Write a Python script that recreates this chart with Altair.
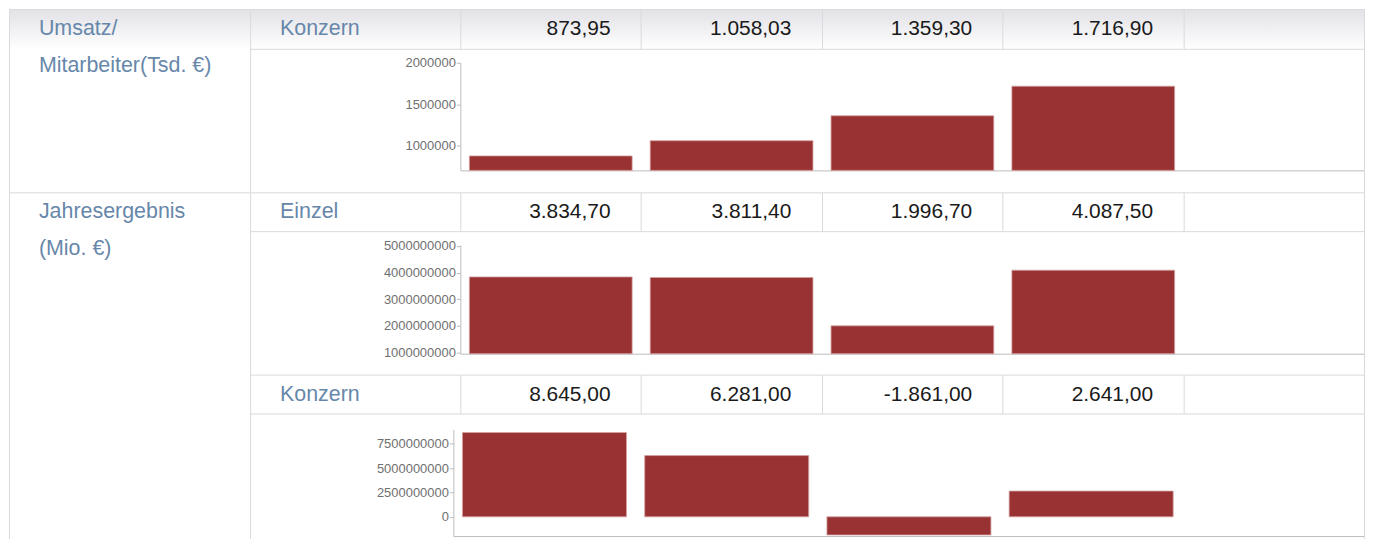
import altair as alt
import pandas as pd

# ---------------- data ----------------
periods = ["Periode 1", "Periode 2", "Periode 3", "Periode 4", "Periode 5"]  # last column is empty
group_labels = ["Umsatz/\nMitarbeiter(Tsd. €)", "Jahresergebnis\n(Mio. €)"]
row_labels = ["Konzern", "Einzel", "Konzern"]
umsatz_konzern = [873.95, 1058.03, 1359.30, 1716.90]      # Tsd. €
ergebnis_einzel = [3834.70, 3811.40, 1996.70, 4087.50]    # Mio. €
ergebnis_konzern = [8645.00, 6281.00, -1861.00, 2641.00]  # Mio. €
row_units = [1e3, 1e6, 1e6]
ticks_1 = [1000000, 1500000, 2000000]
ticks_2 = [1000000000, 2000000000, 3000000000, 4000000000, 5000000000]
ticks_3 = [0, 2500000000, 5000000000, 7500000000]
domain_1 = [699160, 2000000]
domain_2 = [950000000, 5030000000]
domain_3 = [-1970000000, 8960000000]

# ---------------- layout / style ----------------
W, H = 1363, 532
XL0, XL1, XL2, XR = 1.5, 243.5, 454, 1361.5
X3 = 447
ROWS = [0.5, 40.5, 184.5, 223.5, 367.5, 406.5]
PLOT_Y = [(162, 54), (346, 237), (529, 422)]
TEXT_Y = [26, 209.5, 393]
GROUP_Y = [26, 209.5]
FONT = "Liberation Sans"
BAR = "#993333"
GRID = "#dadade"
AXIS = "#bdbdbd"
LABEL = "#6787aa"


def de(v):
    s = f"{v:,.2f}"
    return s.replace(",", "#").replace(".", ",").replace("#", ".")


def band(lo):
    return alt.Scale(domain=periods, range=[lo, XR], paddingInner=0.1, paddingOuter=0.05)


one = pd.DataFrame({"a": [0]})
layers = []

# header row gradient
layers.append(
    alt.Chart(one).mark_rect(
        color=alt.Gradient(
            gradient="linear", x1=0, x2=0, y1=0, y2=1,
            stops=[alt.GradientStop(color="#e2e2e7", offset=0),
                   alt.GradientStop(color="#ffffff", offset=1)],
        )
    ).encode(x=alt.value(XL0), x2=alt.value(XR), y=alt.value(ROWS[0]), y2=alt.value(ROWS[1]))
)

# table grid segments
segs = []
for y, x0 in zip(ROWS, [XL0, XL1, XL0, XL1, XL1, XL1]):
    segs.append((x0, XR, y, y))
for x in [XL0, XL1, XR]:
    segs.append((x, x, ROWS[0], H))
step = (XR - XL2) / 5
col_x = [int(XL2 + k * step) + 0.5 for k in range(5)]
for top, bot in [(ROWS[0], ROWS[1]), (ROWS[2], ROWS[3]), (ROWS[4], ROWS[5])]:
    for x in col_x:
        segs.append((x, x, top, bot))
seg_df = pd.DataFrame(segs, columns=["x1", "x2", "y1", "y2"])
layers.append(
    alt.Chart(seg_df).mark_rule(color=GRID, strokeWidth=1).encode(
        x=alt.X("x1:Q", scale=None, axis=None), x2="x2:Q",
        y=alt.Y("y1:Q", scale=None, axis=None), y2="y2:Q",
    )
)

# bar charts
series = [umsatz_konzern, ergebnis_einzel, ergebnis_konzern]
domains = [domain_1, domain_2, domain_3]
ticks = [ticks_1, ticks_2, ticks_3]
xlos = [XL2, XL2, X3]
for vals, unit, dom, rng, tv, xlo in zip(series, row_units, domains, PLOT_Y, ticks, xlos):
    df = pd.DataFrame({"period": periods[:len(vals)], "value": [v * unit for v in vals]})
    base = dom[0] if dom[0] > 0 else 0
    layers.append(
        alt.Chart(df).mark_bar(color=BAR, stroke="#d4a0a0", strokeWidth=0.8).encode(
            x=alt.X("period:N", scale=band(xlo),
                    axis=alt.Axis(orient="bottom", offset=rng[0] - H, labels=False, ticks=False,
                                  title=None, grid=False, domainColor=AXIS)),
            y=alt.Y("value:Q", scale=alt.Scale(domain=dom, range=list(rng), nice=False, zero=False),
                    axis=alt.Axis(orient="left", offset=-xlo, values=tv, format="d", title=None,
                                  grid=False, tickSize=4, labelPadding=1, domainColor=AXIS,
                                  tickColor=AXIS, labelColor="#707070", labelFont=FONT,
                                  labelFontSize=13)),
            y2=alt.datum(base),
        )
    )

# value texts in header rows (right-aligned inside each column)
for vals, ty in zip(series, TEXT_Y):
    df = pd.DataFrame({"period": periods[:len(vals)], "label": [de(v) for v in vals]})
    layers.append(
        alt.Chart(df).mark_text(align="right", baseline="alphabetic", dx=60, font=FONT,
                                fontSize=21, color="#1a1a1a").encode(
            x=alt.X("period:N", scale=band(XL2), axis=None),
            y=alt.value(ty),
            text="label:N",
        )
    )

# row labels
for lab, ty in zip(row_labels, TEXT_Y):
    layers.append(
        alt.Chart(pd.DataFrame({"t": [lab]})).mark_text(
            align="left", baseline="alphabetic", font=FONT, fontSize=21.5, color=LABEL
        ).encode(x=alt.value(273), y=alt.value(ty), text="t:N")
    )

# group labels
for lab, ty in zip(group_labels, GROUP_Y):
    layers.append(
        alt.Chart(pd.DataFrame({"t": [lab]})).mark_text(
            align="left", baseline="alphabetic", font=FONT, fontSize=21.5, color=LABEL,
            lineBreak="\n", lineHeight=37.5
        ).encode(x=alt.value(31), y=alt.value(ty), text="t:N")
    )

chart = (
    alt.layer(*layers)
    .resolve_scale(x="independent", y="independent")
    .properties(width=W, height=H, padding=0, autosize=alt.AutoSizeParams(type="none"),
                background="white")
    .configure_view(strokeWidth=0)
)

chart.save("out.html", embed_options={"renderer": "svg", "actions": False})
